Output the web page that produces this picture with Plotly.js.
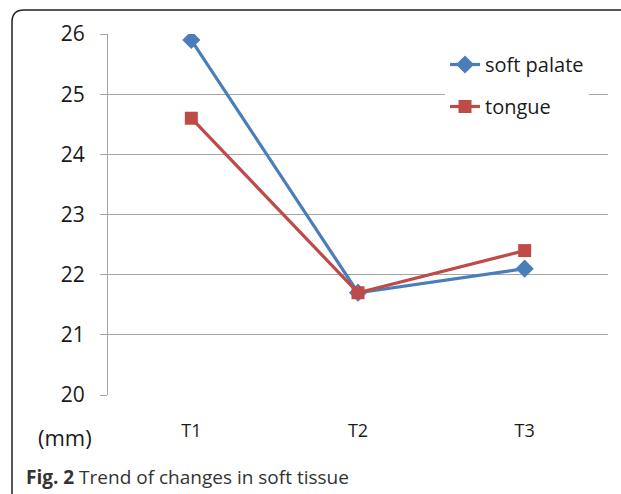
<!DOCTYPE html>
<html>
<head>
<meta charset="utf-8">
<script src="https://cdn.plot.ly/plotly-3.0.1.min.js"></script>
<style>html,body{margin:0;padding:0;background:#fff;}#chart{width:621px;height:494px;}</style>
</head>
<body>
<div id="chart"></div>
<script>
const categories = ["T1", "T2", "T3"];
const softPalate = [25.9, 21.7, 22.1];
const tongue = [24.6, 21.7, 22.4];
const yTicks = [20, 21, 22, 23, 24, 25, 26];
const seriesNames = ["soft palate", "tongue"];
const unitLabel = "(mm)";
const caption = "<b>Fig. 2</b> Trend of changes in soft tissue";

const W = 621, H = 494;
const L = 108, R = 13, T = 34, B = 99;
const pw = W - L - R, ph = H - T - B;
const px = x => (x - L) / pw;
const py = y => (H - B - y) / ph;

const font = "'Open Sans', 'Noto Sans', sans-serif";

const traces = [
  {
    x: categories, y: softPalate, name: seriesNames[0], type: "scatter", mode: "lines+markers",
    line: {color: "#4a7ebb", width: 3.2},
    marker: {symbol: "diamond", size: 14, color: "#4a7ebb"},
    legendgroup: "a"
  },
  {
    x: categories, y: tongue, name: seriesNames[1], type: "scatter", mode: "lines+markers",
    line: {color: "#be4b48", width: 3.2},
    marker: {symbol: "square", size: 13, color: "#be4b48"},
    legendgroup: "b"
  }
];

const fx0 = px(12), fy0 = py(494), fy1 = py(10), fx1 = px(625);
const rX = 12 / pw, rY = 12 / ph;
const framePath = `M ${fx0},${fy0} L ${fx0},${fy1 - rY} Q ${fx0},${fy1} ${fx0 + rX},${fy1} L ${fx1},${fy1}`;

const layout = {
  width: W, height: H,
  margin: {l: L, r: R, t: T, b: B},
  paper_bgcolor: "#ffffff", plot_bgcolor: "#ffffff",
  font: {family: font, color: "#1a1a1a"},
  showlegend: true,
  legend: {
    x: px(445), y: py(45), xanchor: "left", yanchor: "top",
    bgcolor: "#ffffff", borderwidth: 0,
    font: {size: 20, color: "#1a1a1a", family: font},
    traceorder: "grouped", tracegroupgap: 13
  },
  xaxis: {
    type: "category", range: [-0.5, 2.5],
    showgrid: false, zeroline: false, showline: false,
    ticks: "", ticklabelstandoff: 23,
    tickfont: {size: 18, color: "#1a1a1a", family: font}
  },
  yaxis: {
    range: [20, 26], tickvals: yTicks,
    showgrid: true, gridcolor: "#a6a6a6", gridwidth: 1,
    zeroline: false, showline: true, linecolor: "#a6a6a6", linewidth: 1,
    ticks: "outside", ticklen: 7, tickcolor: "#a6a6a6", ticklabelstandoff: 11,
    tickfont: {size: 21, color: "#1a1a1a", family: font}
  },
  shapes: [
    {type: "path", xref: "paper", yref: "paper", path: framePath, line: {color: "#222", width: 1.5}}
  ],
  annotations: [
    {xref: "paper", yref: "paper", x: px(65), y: py(437), text: unitLabel, showarrow: false,
     xanchor: "center", yanchor: "middle", font: {size: 22, color: "#1a1a1a", family: font}},
    {xref: "paper", yref: "paper", x: px(24), y: py(477), text: caption, showarrow: false,
     xanchor: "left", yanchor: "middle", font: {size: 19, color: "#333", family: font}}
  ]
};

Plotly.newPlot("chart", traces, layout, {displayModeBar: false, staticPlot: true});
</script>
</body>
</html>
